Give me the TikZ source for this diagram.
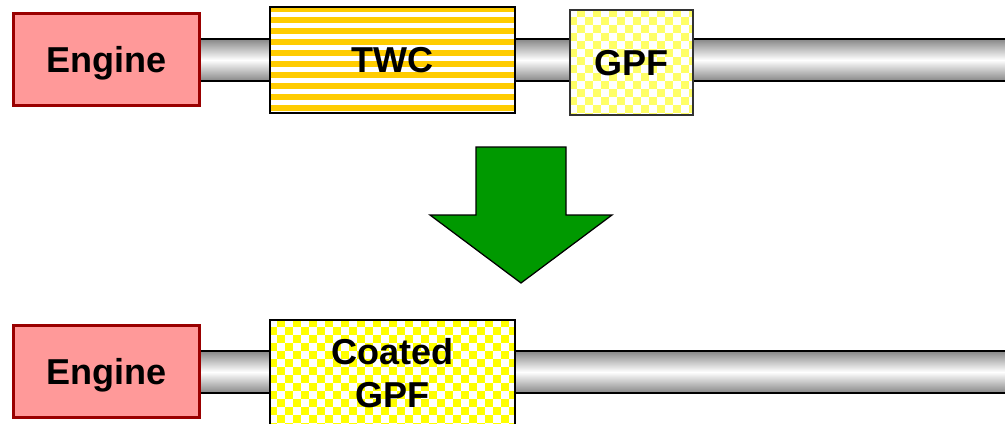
\documentclass[tikz,border=0pt]{standalone}
\usepackage{fontspec}
\setmainfont{Liberation Sans}
\usetikzlibrary{backgrounds}
\definecolor{enginefill}{RGB}{255,153,153}
\definecolor{engineline}{RGB}{153,0,0}
\definecolor{twcyellow}{RGB}{255,204,0}
\definecolor{gpfpale}{RGB}{255,255,102}
\definecolor{gpfyellow}{RGB}{255,255,0}
\definecolor{arrowgreen}{RGB}{0,153,0}
\definecolor{pipegray}{RGB}{135,135,135}

\tikzset{
	label font/.style={font=\bfseries\fontsize{20.5}{24.5}\selectfont, text height=14.7pt, text depth=0pt},
	engine/.style={label font, draw=engineline, fill=enginefill, line width=0.06cm,
		minimum width=3.74cm, minimum height=1.86cm, inner sep=0pt},
	brick/.style={label font, draw=black, line width=0.04cm, inner sep=0pt, align=center},
	pipe/.style={top color=pipegray, bottom color=pipegray, middle color=white},
	pipeedge/.style={draw=black, line width=0.035cm}
}

\begin{document}
\begin{tikzpicture}[x=0.02cm, y=-0.02cm]
	\useasboundingbox (0,0) rectangle (1005,423);
	\clip (0,0) rectangle (1005,423);

	% before
	\node[engine] (engA) at (106.5,59.5) {Engine};
	\node[brick, line width=0.05cm, minimum width=4.9cm, minimum height=2.12cm] (twc) at (392.5,60) {TWC};
	\node[brick, draw=black!80, minimum width=2.46cm, minimum height=2.1cm] (gpfA) at (631.5,62.5) {GPF};
	\coordinate (pipeAtop) at (1005,39);
	\coordinate (pipeAbot) at (1005,81);

	% after
	\node[engine] (engB) at (106.5,371.5) {Engine};
	\node[brick, text height=39.2pt, minimum width=4.9cm, minimum height=2.12cm] (cgpf) at (392.5,373) {Coated\\GPF};
	\coordinate (pipeBtop) at (1005,351);
	\coordinate (pipeBbot) at (1005,393);

	\begin{scope}[on background layer]
		\shade[pipe] (engA.east |- pipeAtop) rectangle (pipeAbot);
		\draw[pipeedge] (engA.east |- pipeAtop) -- (pipeAtop) (engA.east |- pipeAbot) -- (pipeAbot);
		\shade[pipe] (engB.east |- pipeBtop) rectangle (pipeBbot);
		\draw[pipeedge] (engB.east |- pipeBtop) -- (pipeBtop) (engB.east |- pipeBbot) -- (pipeBbot);

		% stripes of the TWC
		\fill[white] (twc.north west) rectangle (twc.south east);
		\begin{scope}[shift={(twc.north west)}]
			\clip (0,0) rectangle (245,106);
			\foreach \k in {0,...,9}
				\fill[twcyellow] (0,\k*11) rectangle ++(245,6);
		\end{scope}

		% checks of the GPF
		\fill[white] (gpfA.north west) rectangle (gpfA.south east);
		\begin{scope}[shift={(gpfA.north west)}]
			\clip (0,0) rectangle (123,105);
			\foreach \i in {0,...,15}
				\foreach \j in {0,...,13} {
					\pgfmathtruncatemacro\odd{mod(\i+\j,2)}
					\ifnum\odd=1 \fill[gpfpale] (\i*8,\j*8) rectangle ++(8,8); \fi
				}
		\end{scope}

		% checks of the coated GPF
		\fill[white] (cgpf.north west) rectangle (cgpf.south east);
		\begin{scope}[shift={(cgpf.north west)}]
			\clip (0,0) rectangle (245,106);
			\foreach \i in {0,...,30}
				\foreach \j in {0,...,13} {
					\pgfmathtruncatemacro\odd{mod(\i+\j,2)}
					\ifnum\odd=1 \fill[gpfyellow] (\i*8,\j*8) rectangle ++(8,8); \fi
				}
		\end{scope}
	\end{scope}

	% big arrow
	\filldraw[fill=arrowgreen, draw=black, line width=0.025cm, line join=miter]
		(476,147) -- (566,147) -- (566,215) -- (612,215) -- (521,283) -- (430,215) -- (476,215) -- cycle;
\end{tikzpicture}
\end{document}
